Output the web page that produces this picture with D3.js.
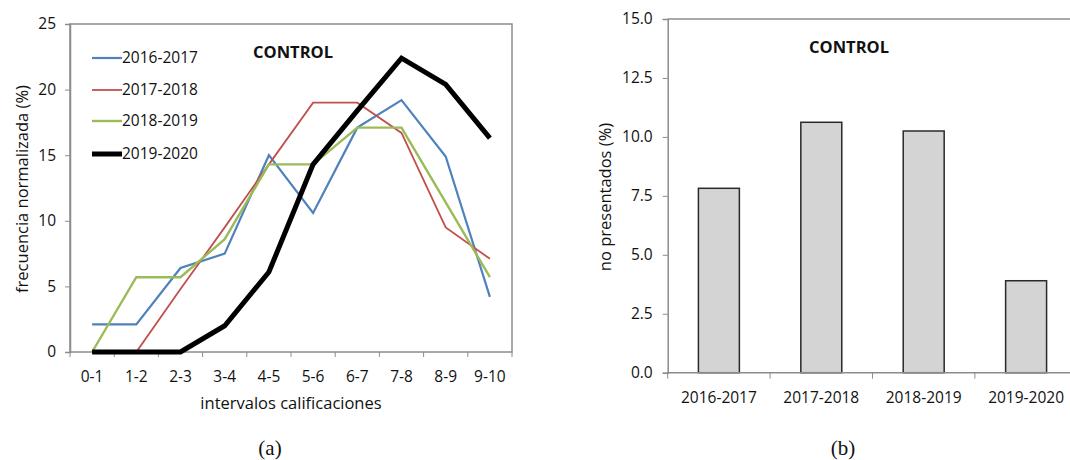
<!DOCTYPE html>
<html><head><meta charset="utf-8">
<script src="https://cdn.jsdelivr.net/npm/d3@7"></script>
<style>
body{margin:0;background:#fff;}
text{font-family:"Open Sans",sans-serif;fill:#111;}
</style></head>
<body><svg id="c" width="1070" height="460"></svg>
<script>
const intervals = ["0-1","1-2","2-3","3-4","4-5","5-6","6-7","7-8","8-9","9-10"];
const seriesNames = ["2016-2017","2017-2018","2018-2019","2019-2020"];
const s2016 = [2.1,2.1,6.4,7.5,15.0,10.6,17.1,19.2,14.9,4.2];
const s2017 = [0,0,4.8,9.5,14.3,19.0,19.0,16.7,9.5,7.1];
const s2018 = [0,5.7,5.7,8.6,14.3,14.3,17.1,17.1,11.4,5.7];
const s2019 = [0,0,0,2.0,6.1,14.3,18.4,22.4,20.4,16.3];
const yTicksA = [0,5,10,15,20,25];
const years = ["2016-2017","2017-2018","2018-2019","2019-2020"];
const noPresentados = [7.82,10.62,10.25,3.9];
const yTicksB = [0,2.5,5,7.5,10,12.5,15];

const svg = d3.select("#c");
const axisCol = "#8c8c8c";
const fs = 15.5;

// ---------- Chart (a) ----------
const A = {l:70, r:512, t:24, b:352};
const xA = d3.scalePoint().domain(intervals).range([A.l,A.r]).padding(0.5);
const xAb = d3.scaleBand().domain(intervals).range([A.l,A.r]);
const yA = d3.scaleLinear().domain([0,25]).range([A.b,A.t]);
const gA = svg.append("g");

gA.append("rect").attr("x",A.l).attr("y",A.t).attr("width",A.r-A.l).attr("height",A.b-A.t)
  .attr("fill","none").attr("stroke",axisCol).attr("stroke-width",1.5);

const yAxA = gA.append("g").attr("transform",`translate(${A.l},0)`)
  .call(d3.axisLeft(yA).tickValues(yTicksA).tickSize(5).tickPadding(9));
yAxA.select(".domain").attr("stroke",axisCol).attr("stroke-width",1.5);
yAxA.selectAll(".tick line").attr("stroke",axisCol);
yAxA.selectAll(".tick text").attr("font-size",fs).attr("font-family","Open Sans").attr("fill","#111");

const bounds = intervals.map(d=>xAb(d)).concat([A.r]);
gA.selectAll(".xt").data(bounds).join("line")
  .attr("x1",d=>d).attr("x2",d=>d).attr("y1",A.b).attr("y2",A.b+5)
  .attr("stroke",axisCol).attr("stroke-width",1);
gA.selectAll(".xl").data(intervals).join("text")
  .attr("x",d=>xA(d)).attr("y",377).attr("dy","0.35em")
  .attr("text-anchor","middle").attr("font-size",fs).text(d=>d);

const seriesA = [
  {name:seriesNames[0], vals:s2016, color:"#4f81bd", w:2.2},
  {name:seriesNames[1], vals:s2017, color:"#c0504d", w:1.8},
  {name:seriesNames[2], vals:s2018, color:"#9bbb59", w:2.4},
  {name:seriesNames[3], vals:s2019, color:"#000000", w:5}
];
const line = d3.line().x((d,i)=>xA(intervals[i])).y(d=>yA(d));
seriesA.forEach(s=>{
  gA.append("path").datum(s.vals).attr("d",line).attr("fill","none")
    .attr("stroke",s.color).attr("stroke-width",s.w).attr("stroke-linejoin","miter");
});

const legY = [58,90,121,154];
seriesA.forEach((s,i)=>{
  gA.append("line").attr("x1",92).attr("x2",122).attr("y1",legY[i]).attr("y2",legY[i])
    .attr("stroke",s.color).attr("stroke-width",s.w);
  gA.append("text").attr("x",122).attr("y",legY[i]).attr("dy","0.35em")
    .attr("font-size",fs).text(s.name);
});

gA.append("text").attr("x",293).attr("y",52).attr("dy","0.35em").attr("text-anchor","middle")
  .attr("font-size",16.5).attr("font-weight","bold").text("CONTROL");
gA.append("text").attr("x",291).attr("y",403).attr("dy","0.35em").attr("text-anchor","middle")
  .attr("font-size",16.5).text("intervalos calificaciones");
gA.append("text").attr("transform","translate(22,189) rotate(-90)").attr("dy","0.35em")
  .attr("text-anchor","middle").attr("font-size",16.5).text("frecuencia normalizada (%)");
gA.append("text").attr("x",270).attr("y",448).attr("dy","0.35em").attr("text-anchor","middle")
  .attr("font-size",21).style("font-family","'Liberation Serif','Times New Roman',serif").text("(a)");

// ---------- Chart (b) ----------
const B = {l:667.7, r:1077.3, t:19, b:372.7};
const xB = d3.scaleBand().domain(years).range([B.l,B.r]).paddingInner(0.6).paddingOuter(0.3);
const xBb = d3.scaleBand().domain(years).range([B.l,B.r]);
const yB = d3.scaleLinear().domain([0,15]).range([B.b,B.t]);
const gB = svg.append("g");

gB.append("line").attr("x1",B.l).attr("x2",B.r).attr("y1",B.t).attr("y2",B.t)
  .attr("stroke",axisCol).attr("stroke-width",1.5);
const yAxB = gB.append("g").attr("transform",`translate(${B.l},0)`)
  .call(d3.axisLeft(yB).tickValues(yTicksB).tickFormat(d3.format(".1f")).tickSize(5).tickPadding(10));
yAxB.select(".domain").attr("stroke",axisCol).attr("stroke-width",1.5);
yAxB.selectAll(".tick line").attr("stroke",axisCol);
yAxB.selectAll(".tick text").attr("font-size",fs).attr("font-family","Open Sans").attr("fill","#111");

gB.selectAll(".bar").data(years).join("rect")
  .attr("x",d=>xB(d)).attr("width",xB.bandwidth())
  .attr("y",(d,i)=>yB(noPresentados[i])).attr("height",(d,i)=>B.b-yB(noPresentados[i]))
  .attr("fill","#d4d4d4").attr("stroke","#2a2a2a").attr("stroke-width",1.5);

gB.append("line").attr("x1",B.l).attr("x2",B.r).attr("y1",B.b).attr("y2",B.b)
  .attr("stroke",axisCol).attr("stroke-width",1.5);
const bB = years.map(d=>xBb(d));
gB.selectAll(".xtb").data(bB).join("line")
  .attr("x1",d=>d).attr("x2",d=>d).attr("y1",B.b).attr("y2",B.b+6)
  .attr("stroke",axisCol).attr("stroke-width",1);
gB.selectAll(".xlb").data(years).join("text")
  .attr("x",d=>xB(d)+xB.bandwidth()/2).attr("y",398).attr("dy","0.35em")
  .attr("text-anchor","middle").attr("font-size",fs).text(d=>d);

gB.append("text").attr("x",849).attr("y",47).attr("dy","0.35em").attr("text-anchor","middle")
  .attr("font-size",16.5).attr("font-weight","bold").text("CONTROL");
gB.append("text").attr("transform","translate(605,197) rotate(-90)").attr("dy","0.35em")
  .attr("text-anchor","middle").attr("font-size",16.5).text("no presentados (%)");
gB.append("text").attr("x",843).attr("y",448).attr("dy","0.35em").attr("text-anchor","middle")
  .attr("font-size",21).style("font-family","'Liberation Serif','Times New Roman',serif").text("(b)");
</script></body></html>
